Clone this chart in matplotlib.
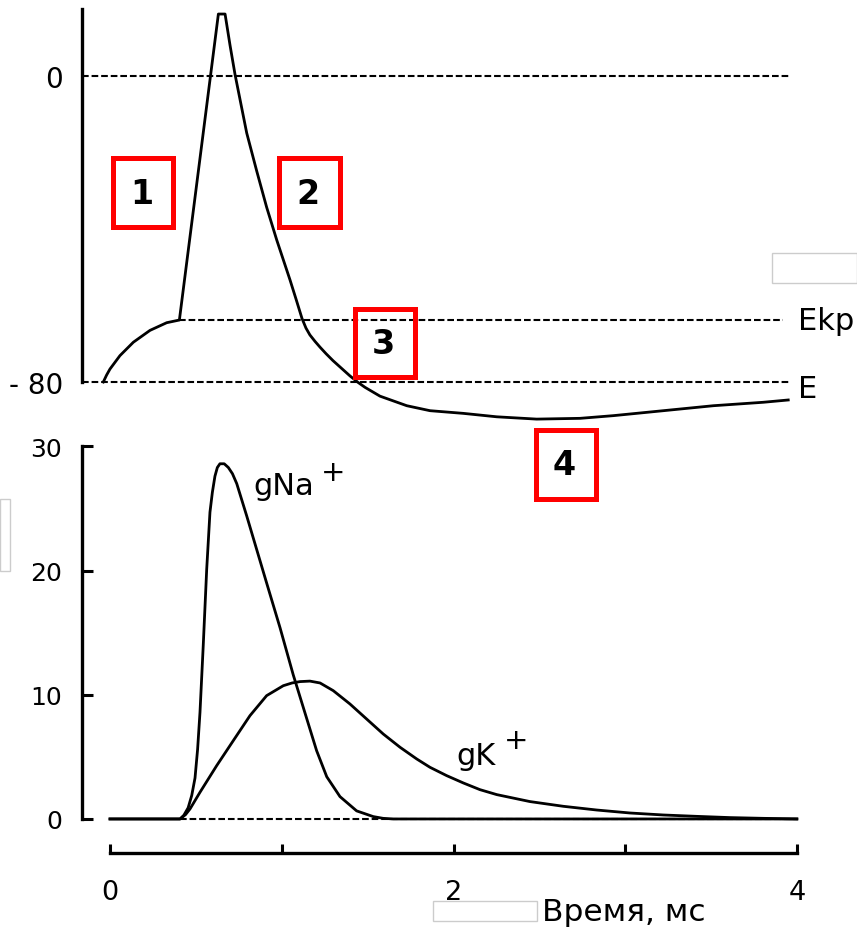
import matplotlib.pyplot as plt
from matplotlib.patches import Rectangle

W, H = 857, 929

# membrane potential (mV) vs time (ms)
ap_t = [-0.039, -0.020, 0.0, 0.058, 0.136, 0.233, 0.330, 0.404,
        0.631, 0.670, 0.699, 0.728, 0.796, 0.854, 0.912, 0.971,
        1.048, 1.083, 1.118, 1.141, 1.164, 1.194, 1.223, 1.258, 1.298,
        1.345, 1.397, 1.444, 1.485, 1.572, 1.728,
        1.863, 2.057, 2.252, 2.484, 2.737, 2.930, 3.222, 3.513, 3.804, 3.949]
ap_v = [-80.0, -78.2, -76.6, -73.1, -69.6, -66.5, -64.5, -63.8,
        16.2, 16.2, 8.0, 0.4, -14.9, -24.8, -34.3, -42.9,
        -53.3, -58.3, -63.4, -65.9, -67.7, -69.4, -70.9, -72.6, -74.4,
        -76.3, -78.4, -80.1, -81.4, -83.7, -86.2,
        -87.5, -88.2, -89.1, -89.7, -89.5, -88.8, -87.5, -86.2, -85.3, -84.7]

# sodium conductance
na_t = [0.0, 0.408, 0.430, 0.455, 0.476, 0.495, 0.510, 0.524, 0.543, 0.563,
        0.582, 0.596, 0.611, 0.625, 0.640, 0.665, 0.689, 0.713, 0.738, 0.767,
        0.796, 0.854, 0.912, 0.990, 1.067, 1.145, 1.203, 1.262, 1.339, 1.436,
        1.533, 1.590, 1.650, 4.0]
na_g = [0.0, 0.0, 0.3, 0.9, 1.9, 3.3, 5.6, 8.6, 14.0, 20.1,
        24.7, 26.3, 27.6, 28.3, 28.6, 28.6, 28.3, 27.8, 27.0, 25.7,
        24.4, 21.7, 19.0, 15.4, 11.6, 8.1, 5.5, 3.4, 1.8, 0.65,
        0.19, 0.05, 0.0, 0.0]

# potassium conductance
k_t = [0.0, 0.408, 0.440, 0.466, 0.524, 0.621, 0.718, 0.815, 0.912, 1.009,
       1.060, 1.106, 1.164, 1.223, 1.300, 1.397, 1.494, 1.591, 1.689, 1.786,
       1.863, 1.960, 2.057, 2.154, 2.252, 2.445, 2.639, 2.834, 3.028, 3.222,
       3.416, 3.610, 3.804, 3.998]
k_g = [0.0, 0.0, 0.35, 0.81, 2.15, 4.29, 6.31, 8.32, 9.93, 10.73,
       10.95, 11.06, 11.1, 10.95, 10.33, 9.26, 8.05, 6.84, 5.77, 4.83,
       4.16, 3.49, 2.90, 2.36, 1.96, 1.40, 1.02, 0.72, 0.48, 0.32,
       0.21, 0.11, 0.05, 0.0]

E_rest = -80
E_thr = -63.8
x_ticks = [0, 1, 2, 3, 4]
x_labels = ["0", "", "2", "", "4"]
g_ticks = [0, 10, 20, 30]

xlim = (-110 / 171.75, (W - 110) / 171.75)
axis_x = (82 - 110) / 171.75


def fpx(x, y):
    return x / W, 1 - y / H


fig = plt.figure(figsize=(W / 100, H / 100), dpi=100)
fig.patch.set_facecolor("white")

# ---- top panel: action potential
ax1 = fig.add_axes([0, 1 - 430 / H, 1, 430 / H])
ax1.set_xlim(*xlim)
ax1.set_ylim(-80 - 47 / 3.825, -80 + 383 / 3.825)
ax1.patch.set_alpha(0)
for s in ["top", "right", "bottom"]:
    ax1.spines[s].set_visible(False)
ax1.spines["left"].set_position(("data", axis_x))
ax1.spines["left"].set_bounds(-80, 17.5)
ax1.spines["left"].set_linewidth(2.4)
ax1.set_xticks([])
ax1.set_yticks([0, -80])
ax1.set_yticklabels(["0", "- 80"], fontsize=20)
ax1.tick_params(axis="y", length=0, pad=13.5)

dash = (0, (3.2, 1.4))
ax1.plot([axis_x, 3.96], [0, 0], color="black", lw=1.5, linestyle=dash)
ax1.plot([axis_x, 3.96], [E_rest, E_rest], color="black", lw=1.5, linestyle=dash)
ax1.plot([0.404, 3.92], [E_thr, E_thr], color="black", lw=1.5, linestyle=dash)
ax1.plot(ap_t, ap_v, color="black", lw=2.0, solid_joinstyle="round")

ax1.text(4.006, E_thr, "Ekp", fontsize=22, va="center", ha="left")
ax1.text(4.006, -81.8, "E", fontsize=22, va="center", ha="left")

# ---- bottom panel: conductances
ax2 = fig.add_axes([0, 0, 1, 499 / H])
ax2.set_xlim(*xlim)
ax2.set_ylim(-8.78, 31.4)
ax2.patch.set_alpha(0)
for s in ["top", "right"]:
    ax2.spines[s].set_visible(False)
ax2.spines["left"].set_position(("data", axis_x))
ax2.spines["left"].set_bounds(0, 30)
ax2.spines["left"].set_linewidth(2.4)
ax2.spines["bottom"].set_position(("data", -2.74))
ax2.spines["bottom"].set_bounds(0, 4)
ax2.spines["bottom"].set_linewidth(2.4)
ax2.set_yticks(g_ticks)
ax2.set_yticklabels([str(v) for v in g_ticks], fontsize=18)
ax2.tick_params(axis="y", direction="in", length=8, width=2.2, pad=14.5)
ax2.set_xticks(x_ticks)
ax2.set_xticklabels(x_labels, fontsize=19.5)
ax2.tick_params(axis="x", direction="in", length=6.5, width=2.2, pad=19)

ax2.plot([0.408, 4.0], [0, 0], color="black", lw=1.5, linestyle=dash)
ax2.plot(k_t, k_g, color="black", lw=2.0, solid_joinstyle="round")
ax2.plot(na_t, na_g, color="black", lw=2.0, solid_joinstyle="round")

ax2.text(0.835, 26.2, "gNa", fontsize=22, va="baseline", ha="left")
ax2.text(1.298, 27.9, "+", fontsize=21, va="center", ha="center")
ax2.text(2.015, 4.43, "gK", fontsize=22, va="baseline", ha="left")
ax2.text(2.364, 6.36, "+", fontsize=21, va="center", ha="center")
ax2.text(2.515, -8.13, "Время, мс", fontsize=22.5, va="baseline", ha="left")

# ---- numbered red boxes
boxes = [("1", 110, 156, 175, 230), ("2", 276, 156, 342, 230),
         ("3", 352, 307, 417, 380), ("4", 533, 428, 598, 502)]
lw_px = 5
for label, x0, y0, x1, y1 in boxes:
    fx0, fy1 = fpx(x0 + lw_px / 2, y1 - lw_px / 2)
    fx1, fy0 = fpx(x1 - lw_px / 2, y0 + lw_px / 2)
    fig.add_artist(Rectangle((fx0, fy1), fx1 - fx0, fy0 - fy1, transform=fig.transFigure,
                             fill=False, edgecolor="#ff0000", lw=lw_px * 0.72))
    cx, cy = fpx((x0 + x1) / 2 - 1, (y0 + y1) / 2 + 1)
    fig.text(cx, cy, label, fontsize=24, fontweight="bold", ha="center", va="center")

# faint grey frames present in the source image
for x0, y0, x1, y1 in [(772, 254, 857, 284), (0, 500, 10, 572), (433, 902, 537, 922)]:
    fx0, fy1 = fpx(x0, y1)
    fx1, fy0 = fpx(x1, y0)
    fig.add_artist(Rectangle((fx0, fy1), fx1 - fx0, fy0 - fy1, transform=fig.transFigure,
                             fill=False, edgecolor="#cccccc", lw=1))

fig.savefig("out.png", dpi=100)
